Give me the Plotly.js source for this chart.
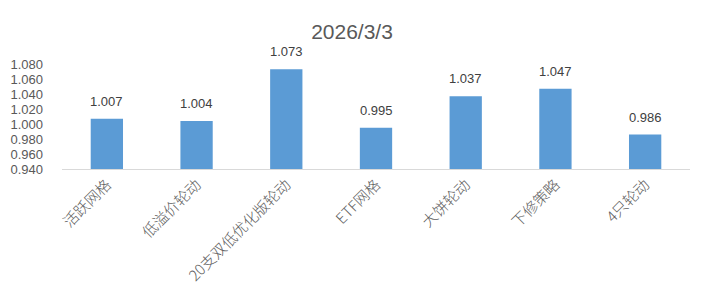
<!DOCTYPE html>
<html>
<head>
<meta charset="utf-8">
<script src="https://cdn.plot.ly/plotly-3.0.1.min.js"></script>
<style>html,body{margin:0;padding:0;background:#fff;}#chart{width:704px;height:298px;}</style>
</head>
<body>
<div id="chart"></div>
<script>
const categories = ["活跃网格", "低溢价轮动", "20支双低优化版轮动", "ETF网格", "大饼轮动", "下修策略", "4只轮动"];
const values = [1.007, 1.004, 1.073, 0.995, 1.037, 1.047, 0.986];
const tickValues = [0.94, 0.96, 0.98, 1.00, 1.02, 1.04, 1.06, 1.08];
const chartTitle = "2026/3/3";

const fontFam = "'Liberation Sans', 'Noto Sans CJK SC', sans-serif";
const cjkFam = "'Noto Sans CJK SC', 'Liberation Sans', sans-serif";

const labelAnnotations = categories.map((c, i) => ({
  x: c, y: values[i], xref: 'x', yref: 'y',
  text: values[i].toFixed(3),
  showarrow: false, yanchor: 'bottom', yshift: 8,
  font: {family: fontFam, size: 13, color: '#404040'}
}));

Plotly.newPlot('chart', [{
  type: 'bar',
  x: categories,
  y: values,
  marker: {color: '#5B9BD5'},
  hoverinfo: 'none'
}], {
  width: 704, height: 298,
  margin: {l: 62, r: 14, t: 64, b: 129},
  paper_bgcolor: '#fff', plot_bgcolor: '#fff',
  title: {text: chartTitle, x: 0.5, xanchor: 'center', y: 0.895, yanchor: 'middle', font: {family: fontFam, size: 21, color: '#595959'}},
  bargap: 0.64,
  showlegend: false,
  annotations: labelAnnotations,
  xaxis: {
    type: 'category',
    tickangle: -45,
    showline: true, linecolor: '#D9D9D9', linewidth: 1,
    ticks: '', showgrid: false,
    tickfont: {family: cjkFam, size: 15, color: '#606060', weight: 300}
  },
  yaxis: {
    range: [0.94, 1.08],
    tickvals: tickValues,
    ticktext: tickValues.map(v => v.toFixed(3)),
    showgrid: false, zeroline: false, showline: false,
    ticks: '', ticklen: 0,
    ticklabelstandoff: 18,
    tickfont: {family: fontFam, size: 13, color: '#595959'}
  }
}, {staticPlot: true});
</script>
</body>
</html>
